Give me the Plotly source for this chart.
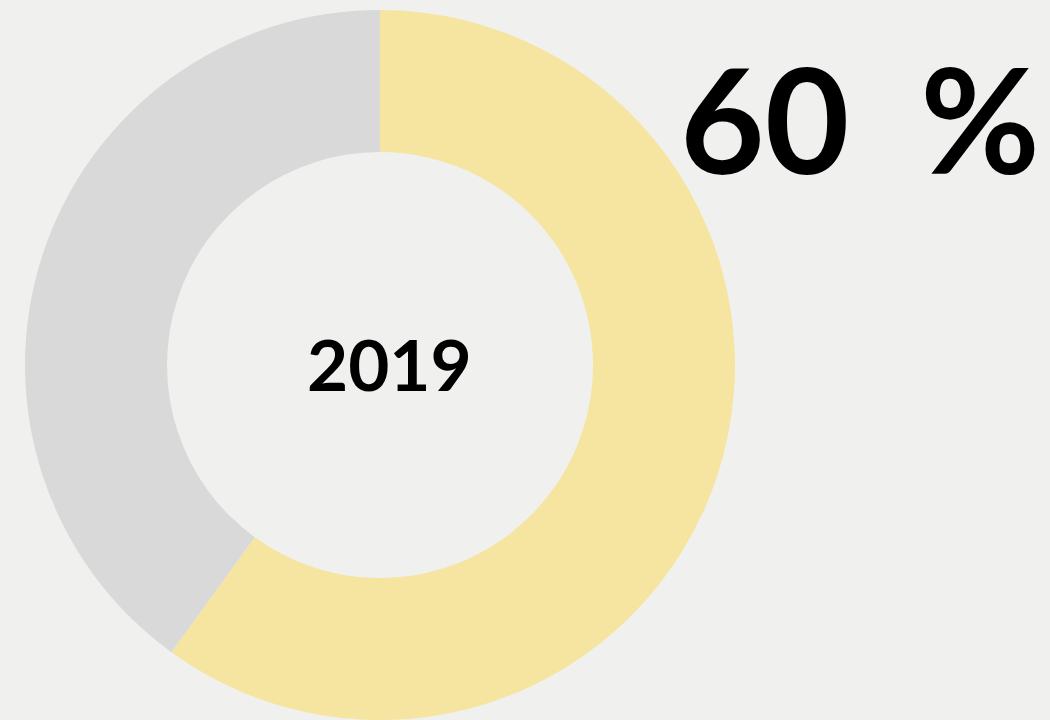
import plotly.graph_objects as go

# Data
LABELS = ["2019", "Rest"]
VALUES = [60, 40]
COLORS = ["#f6e5a0", "#d9d9d9"]
CENTER_TEXT = "2019"
BIG_TEXT = "60&nbsp;&nbsp;%"

BG_COLOR = "#f0f0ef"
FONT_FAMILY = "Lato, Inter, sans-serif"

fig = go.Figure(
    go.Pie(
        labels=LABELS,
        values=VALUES,
        hole=0.6,
        sort=False,
        direction="clockwise",
        rotation=0,
        marker=dict(colors=COLORS, line=dict(width=0)),
        textinfo="none",
        hoverinfo="skip",
        showlegend=False,
        domain=dict(x=[25 / 1050, 735 / 1050], y=[0.0, 710 / 720]),
    )
)

fig.update_layout(
    width=1050,
    height=720,
    margin=dict(l=0, r=0, t=0, b=0),
    paper_bgcolor=BG_COLOR,
    plot_bgcolor=BG_COLOR,
    font=dict(family=FONT_FAMILY, color="black"),
    annotations=[
        dict(
            x=389 / 1050,
            y=(720 - 363) / 720,
            xref="paper",
            yref="paper",
            text=f"<b>{CENTER_TEXT}</b>",
            showarrow=False,
            font=dict(size=71),
            xanchor="center",
            yanchor="middle",
        ),
        dict(
            x=860 / 1050,
            y=(720 - 118) / 720,
            xref="paper",
            yref="paper",
            text=f"<b>{BIG_TEXT}</b>",
            showarrow=False,
            font=dict(size=146),
            xanchor="center",
            yanchor="middle",
        ),
    ],
)

# drop the default page margin so the figure fills the window
fig.write_html(
    "out.html",
    config={"displayModeBar": False},
    post_script="document.body.style.margin='0'; document.body.style.background='#f0f0ef';",
)
